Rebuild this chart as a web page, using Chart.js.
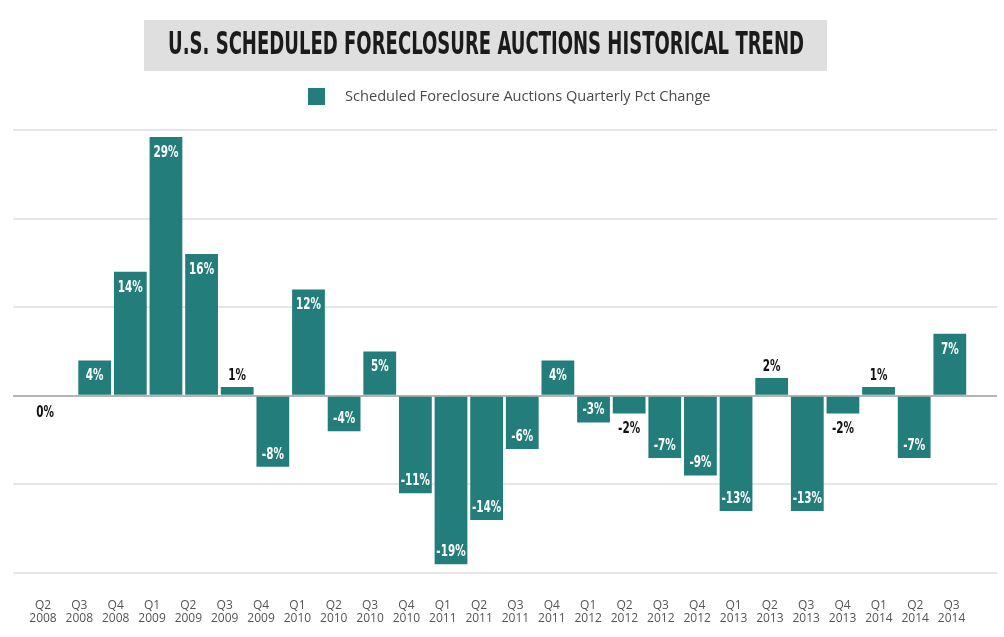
<!DOCTYPE html>
<html>
<head>
<meta charset="utf-8">
<script src="https://cdn.jsdelivr.net/npm/chart.js@4/dist/chart.umd.min.js"></script>
<style>
  html, body { margin: 0; padding: 0; background: #ffffff; }
  #wrap { width: 1004px; height: 637px; position: relative; }
</style>
</head>
<body>
<div id="wrap"><canvas id="c" width="1004" height="637"></canvas></div>
<script>
// ---- data ----
const quarters = ["Q2","Q3","Q4","Q1","Q2","Q3","Q4","Q1","Q2","Q3","Q4","Q1","Q2","Q3","Q4","Q1","Q2","Q3","Q4","Q1","Q2","Q3","Q4","Q1","Q2","Q3"];
const years = ["2008","2008","2008","2009","2009","2009","2009","2010","2010","2010","2010","2011","2011","2011","2011","2012","2012","2012","2012","2013","2013","2013","2013","2014","2014","2014"];
const pctChange = [0, 4, 14, 29.2, 16, 1, -8, 12, -4, 5, -11, -19, -14, -6, 4, -3, -2, -7, -9, -13, 2, -13, -2, 1, -7, 7];
const pctLabels = ["0%","4%","14%","29%","16%","1%","-8%","12%","-4%","5%","-11%","-19%","-14%","-6%","4%","-3%","-2%","-7%","-9%","-13%","2%","-13%","-2%","1%","-7%","7%"];
const yTicks = [-20, -10, 0, 10, 20, 30];
const titleText = "U.S. SCHEDULED FORECLOSURE AUCTIONS HISTORICAL TREND";
const seriesName = "Scheduled Foreclosure Auctions Quarterly Pct Change";

const TEAL = "#237d7a";

function hasFont(name) {
  const c = document.createElement('canvas').getContext('2d');
  const s = "mmmmmmmmmmlli1234567890WQ%";
  c.font = "40px monospace"; const a = c.measureText(s).width;
  c.font = "40px '" + name + "', monospace"; const b = c.measureText(s).width;
  return Math.abs(a - b) > 0.5;
}
const condFamily = hasFont("Liberation Sans Narrow") ? "'Liberation Sans Narrow'" :
                   (hasFont("DejaVu Sans Condensed") ? "'DejaVu Sans Condensed'" : "Roboto");

// Title box + legend drawn in the top padding area
const headerPlugin = {
  id: 'header',
  afterDraw(chart) {
    const ctx = chart.ctx;
    ctx.save();
    ctx.fillStyle = "#dfdfe0";
    ctx.fillRect(144, 20, 683, 51);
    ctx.font = "bold 32px " + condFamily;
    const w = ctx.measureText(titleText).width;
    const target = 636;
    ctx.translate(486, 54);
    ctx.scale(target / w, 1);
    ctx.fillStyle = "#1b1b1b";
    ctx.textAlign = "center";
    ctx.textBaseline = "alphabetic";
    ctx.fillText(titleText, 0, 0);
    ctx.restore();

    ctx.save();
    ctx.fillStyle = TEAL;
    ctx.fillRect(308, 88, 17, 17);
    ctx.font = "14.6px 'Open Sans'";
    ctx.fillStyle = "#4a4a4a";
    ctx.textAlign = "left";
    ctx.textBaseline = "middle";
    ctx.fillText(seriesName, 345, 97);
    ctx.restore();
  }
};

// Value labels on bars
const valueLabelPlugin = {
  id: 'valueLabels',
  afterDatasetsDraw(chart) {
    const ctx = chart.ctx;
    const meta = chart.getDatasetMeta(0);
    const xl = chart.scales.xl;
    ctx.save();
    ctx.font = "bold 15px " + condFamily;
    const ref = ctx.measureText("29%").width;
    const sx = 25 / ref;
    ctx.textAlign = "center";
    ctx.textBaseline = "middle";
    meta.data.forEach((bar, i) => {
      const v = pctChange[i];
      const txt = pctLabels[i];
      const p = bar.getProps(['x', 'y', 'base'], true);
      let x = p.x, y, color;
      const top = Math.min(p.y, p.base), bottom = Math.max(p.y, p.base);
      if (Math.abs(v) >= 3) {
        color = "#ffffff";
        y = v > 0 ? top + 16 : bottom - 12;
      } else {
        color = "#111111";
        y = v > 0 ? top - 11 : bottom + 16;
        if (v === 0) { y = p.base + 17; x = xl.getPixelForValue(i) + 2; }
      }
      ctx.save();
      ctx.translate(x, y);
      ctx.scale(sx, 1);
      ctx.fillStyle = color;
      ctx.fillText(txt, 0, 0);
      ctx.restore();
    });
    ctx.restore();
  }
};

const barData = pctChange.map((v, i) => ({ x: i, y: v }));

new Chart(document.getElementById('c'), {
  type: 'bar',
  data: {
    datasets: [{
      label: seriesName,
      data: barData,
      backgroundColor: TEAL,
      borderWidth: 0,
      barPercentage: 0.92,
      categoryPercentage: 1.0,
      xAxisID: 'x',
      yAxisID: 'y'
    }]
  },
  options: {
    responsive: false,
    animation: false,
    devicePixelRatio: 1,
    layout: { padding: { top: 130, left: 13, right: 7, bottom: -14 } },
    plugins: {
      legend: { display: false },
      title: { display: false },
      tooltip: { enabled: false }
    },
    scales: {
      x: {
        type: 'linear',
        display: true,
        offset: false,
        min: -1.293,
        max: 26.324,
        grid: { display: false, drawTicks: false },
        border: { display: false },
        ticks: { display: false }
      },
      xl: {
        type: 'linear',
        position: 'bottom',
        offset: false,
        min: -0.8255,
        max: 26.25,
        afterBuildTicks: (axis) => { axis.ticks = quarters.map((q, i) => ({ value: i })); },
        grid: { display: false, drawTicks: false },
        border: { display: false },
        ticks: {
          autoSkip: false,
          maxRotation: 0,
          minRotation: 0,
          padding: 26,
          color: "#555555",
          font: { family: "'Open Sans'", size: 12, lineHeight: 1.08 },
          callback: (val) => {
            const i = Math.round(val);
            if (Math.abs(val - i) > 1e-6 || i < 0 || i >= quarters.length) return '';
            return [quarters[i], years[i]];
          }
        }
      },
      y: {
        min: yTicks[0],
        max: yTicks[yTicks.length - 1],
        afterBuildTicks: (axis) => { axis.ticks = yTicks.map(v => ({ value: v })); },
        ticks: { display: false },
        border: { display: false },
        grid: {
          drawTicks: false,
          lineWidth: 2,
          color: (c) => (c.tick && c.tick.value === 0) ? "#b4b4b4" : "#e6e6e6"
        }
      }
    }
  },
  plugins: [headerPlugin, valueLabelPlugin]
});
</script>
</body>
</html>
